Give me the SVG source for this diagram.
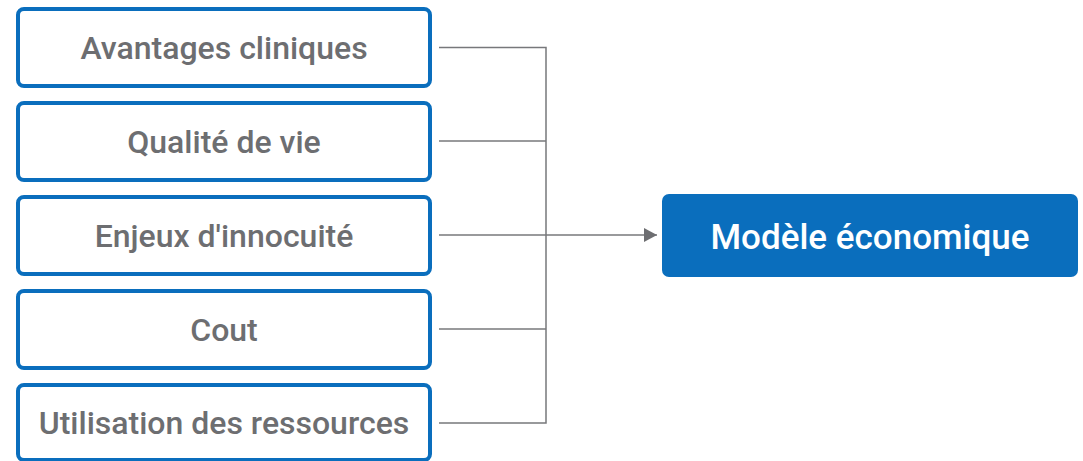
<svg xmlns="http://www.w3.org/2000/svg" width="1083" height="461" viewBox="0 0 1083 461">
<defs>
<style>
.box{fill:#fff;stroke:#0a6ebd;stroke-width:4}
.lbl{font-family:Roboto,"Liberation Sans",sans-serif;font-size:32px;font-weight:500;fill:#6d6e71;text-anchor:middle;dominant-baseline:central}
.main{fill:#0a6ebd}
.mlbl{font-family:Roboto,"Liberation Sans",sans-serif;font-size:35px;font-weight:500;fill:#fff;text-anchor:middle;dominant-baseline:central}
.ln{fill:none;stroke:#77787b;stroke-width:1.5}
</style>
<marker id="ah" markerWidth="14" markerHeight="14" refX="13" refY="7" orient="auto" markerUnits="userSpaceOnUse">
<path d="M0,0 L13,7 L0,14 Z" fill="#6d6e71"/>
</marker>
</defs>
<rect width="1083" height="461" fill="#fff"/>
<g id="connectors">
<path class="ln" d="M439,47.5 H546 V423 H439"/>
<path class="ln" d="M439,141 H546"/>
<path class="ln" d="M439,329 H546"/>
<path class="ln" d="M439,235 H657" marker-end="url(#ah)"/>
</g>
<g id="n1"><rect class="box" x="18" y="9" width="412" height="77" rx="6"/><text class="lbl" x="224" y="48">Avantages cliniques</text></g>
<g id="n2"><rect class="box" x="18" y="103" width="412" height="77" rx="6"/><text class="lbl" x="224" y="142">Qualité de vie</text></g>
<g id="n3"><rect class="box" x="18" y="197" width="412" height="77" rx="6"/><text class="lbl" x="224" y="236">Enjeux d'innocuité</text></g>
<g id="n4"><rect class="box" x="18" y="291" width="412" height="77" rx="6"/><text class="lbl" x="224" y="330">Cout</text></g>
<g id="n5"><rect class="box" x="18" y="385" width="412" height="75" rx="6"/><text class="lbl" x="224" y="423">Utilisation des ressources</text></g>
<g id="n6"><rect class="main" x="662" y="194" width="416" height="83" rx="7"/><text class="mlbl" x="870" y="237">Modèle économique</text></g>
</svg>
